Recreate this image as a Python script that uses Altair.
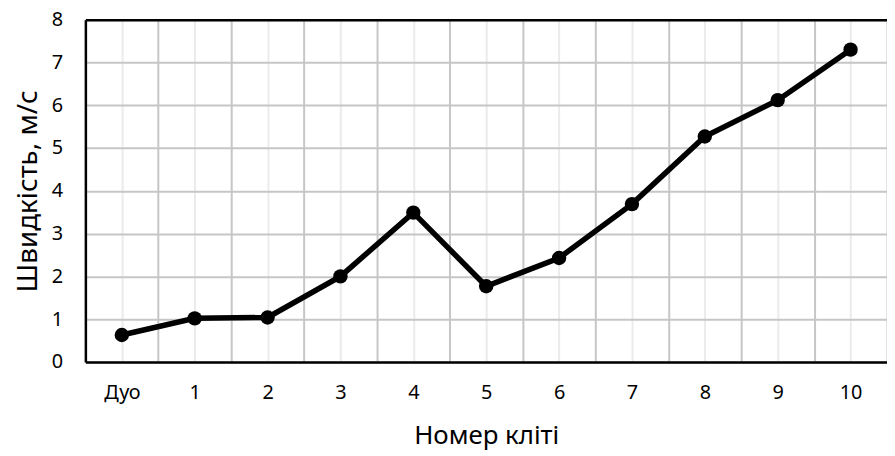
import altair as alt
import pandas as pd

categories = ["Дуо", "1", "2", "3", "4", "5", "6", "7", "8", "9", "10"]
speeds = [0.63, 1.02, 1.04, 2.0, 3.49, 1.77, 2.43, 3.69, 5.27, 6.12, 7.30]
y_ticks = [0, 1, 2, 3, 4, 5, 6, 7, 8]

df = pd.DataFrame({"pos": list(range(len(categories))), "cat": categories, "v": speeds})
minor_vals = [i for i in range(len(categories))]
major_vals = [i - 0.5 for i in range(len(categories) + 1)]
label_arr = "[" + ",".join("'" + c + "'" for c in categories) + "]"

FONT = "Noto Sans"
xscale = alt.Scale(domain=[-0.5, len(categories) - 0.5], nice=False, zero=False)
yscale = alt.Scale(domain=[0, 8], nice=False)

base = alt.Chart(df)

line = base.mark_line(color="black", strokeWidth=5.5).encode(
    x=alt.X("pos:Q", scale=xscale,
            axis=alt.Axis(values=minor_vals, labelExpr=label_arr + "[datum.value]",
                          title="Номер кліті", grid=True, gridColor="#ebebeb", gridWidth=2,
                          domainColor="black", domainWidth=2.5, ticks=False,
                          labelFont=FONT, labelFontSize=20, labelColor="black", labelPadding=21,
                          titleFont=FONT, titleFontSize=26, titleFontWeight="normal",
                          titleColor="black", titlePadding=20)),
    y=alt.Y("v:Q", scale=yscale,
            axis=alt.Axis(values=y_ticks, title="Швидкість, м/с", grid=True, gridColor="#c6c6c6",
                          gridWidth=2, domainColor="black", domainWidth=2.5, ticks=False,
                          labelFont=FONT, labelFontSize=20, labelColor="black", labelPadding=23,
                          titleFont=FONT, titleFontSize=28, titleFontWeight="normal",
                          titleColor="black", titlePadding=9)),
)

pts = base.mark_point(filled=True, color="black", opacity=1, size=210).encode(
    x=alt.X("pos:Q", scale=xscale,
            axis=alt.Axis(values=major_vals, orient="top", labels=False, ticks=False, title=None,
                          grid=True, gridColor="#c6c6c6", gridWidth=2,
                          domainColor="black", domainWidth=2.5)),
    y=alt.Y("v:Q", scale=yscale),
)

chart = alt.layer(line, pts).resolve_axis(x="independent").properties(
    width=808, height=345,
    autosize=alt.AutoSizeParams(type="none"),
    padding={"left": 78, "top": 10, "right": 0, "bottom": 92},
).configure_view(stroke=None).configure(background="white")

chart.save("out.html", embed_options={"renderer": "svg", "actions": False})
